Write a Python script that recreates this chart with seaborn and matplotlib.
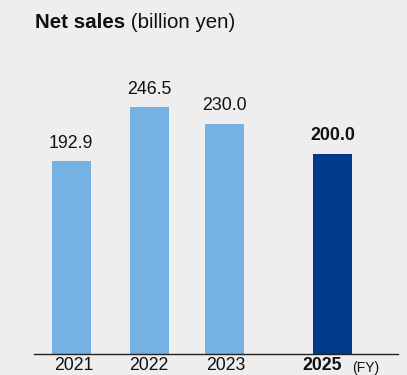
import matplotlib
matplotlib.use("Agg")
import matplotlib.pyplot as plt
import seaborn as sns
import pandas as pd

# Net sales by fiscal year (billion yen); 2025 is the forecast
years = ["2021", "2022", "2023", "2025"]
net_sales = [192.9, 246.5, 230.0, 200.0]
value_labels = ["192.9", "246.5", "230.0", "200.0"]

# Horizontal placement of each bar (gap left where 2024 would sit)
bar_pos = [0.0, 1.02, 2.0, 3.42]
# Year labels; the last one is nudged left to make room for "(FY)"
tick_pos = [0.03, 1.02, 2.02, 3.28]

bg = "#eeeeee"
light_blue = "#75b1e3"
dark_blue = "#003a8c"
bar_colors = {"2021": light_blue, "2022": light_blue, "2023": light_blue, "2025": dark_blue}

sns.set_theme(style="white")
plt.rcParams["font.family"] = ["Liberation Sans", "DejaVu Sans"]

df = pd.DataFrame({"year": years, "sales": net_sales, "pos": bar_pos})

fig = plt.figure(figsize=(4.07, 3.75), dpi=100, facecolor=bg)
ax = fig.add_axes([34 / 407, 21.5 / 375, 364 / 407, 300 / 375])
ax.set_facecolor(bg)

sns.barplot(data=df, x="pos", y="sales", hue="year", palette=bar_colors,
            native_scale=True, dodge=False, width=0.52, legend=False,
            saturation=1, linewidth=0, ax=ax)

ax.set_xlim(-0.484, 4.274)
ax.set_ylim(0, 300)

# Value labels above each bar
for cont, lab, yr in zip(ax.containers, value_labels, years):
    ax.bar_label(cont, labels=[lab], padding=6.5, fontsize=12.8, color="#111111",
                 fontweight="bold" if yr == "2025" else "normal")

ax.set_xticks(tick_pos)
ax.set_xticklabels(years, fontsize=12.7, color="#111111")
for tl, yr in zip(ax.get_xticklabels(), years):
    if yr == "2025":
        tl.set_fontweight("bold")
ax.tick_params(axis="x", length=0, pad=2.2)
ax.set_yticks([])
ax.set_xlabel("")
ax.set_ylabel("")

for side in ["top", "right", "left"]:
    ax.spines[side].set_visible(False)
ax.spines["bottom"].set_color("#222222")
ax.spines["bottom"].set_linewidth(1.0)

# Fiscal-year marker next to the last tick label
ax.text(3.85, -0.048, "(FY)", transform=ax.get_xaxis_transform(),
        ha="center", va="center", fontsize=10, color="#111111")

# Title: bold lead followed by the unit in regular weight
t1 = fig.text(35 / 407, 1 - 28 / 375, "Net sales", fontsize=14.8,
              fontweight="bold", color="#111111", va="baseline", ha="left")
fig.canvas.draw()
ax.annotate(" (billion yen)", xy=(1, 0), xycoords=t1, va="bottom", ha="left",
            fontsize=14.8, color="#111111", annotation_clip=False)

fig.savefig("out.png", dpi=100, facecolor=bg)
